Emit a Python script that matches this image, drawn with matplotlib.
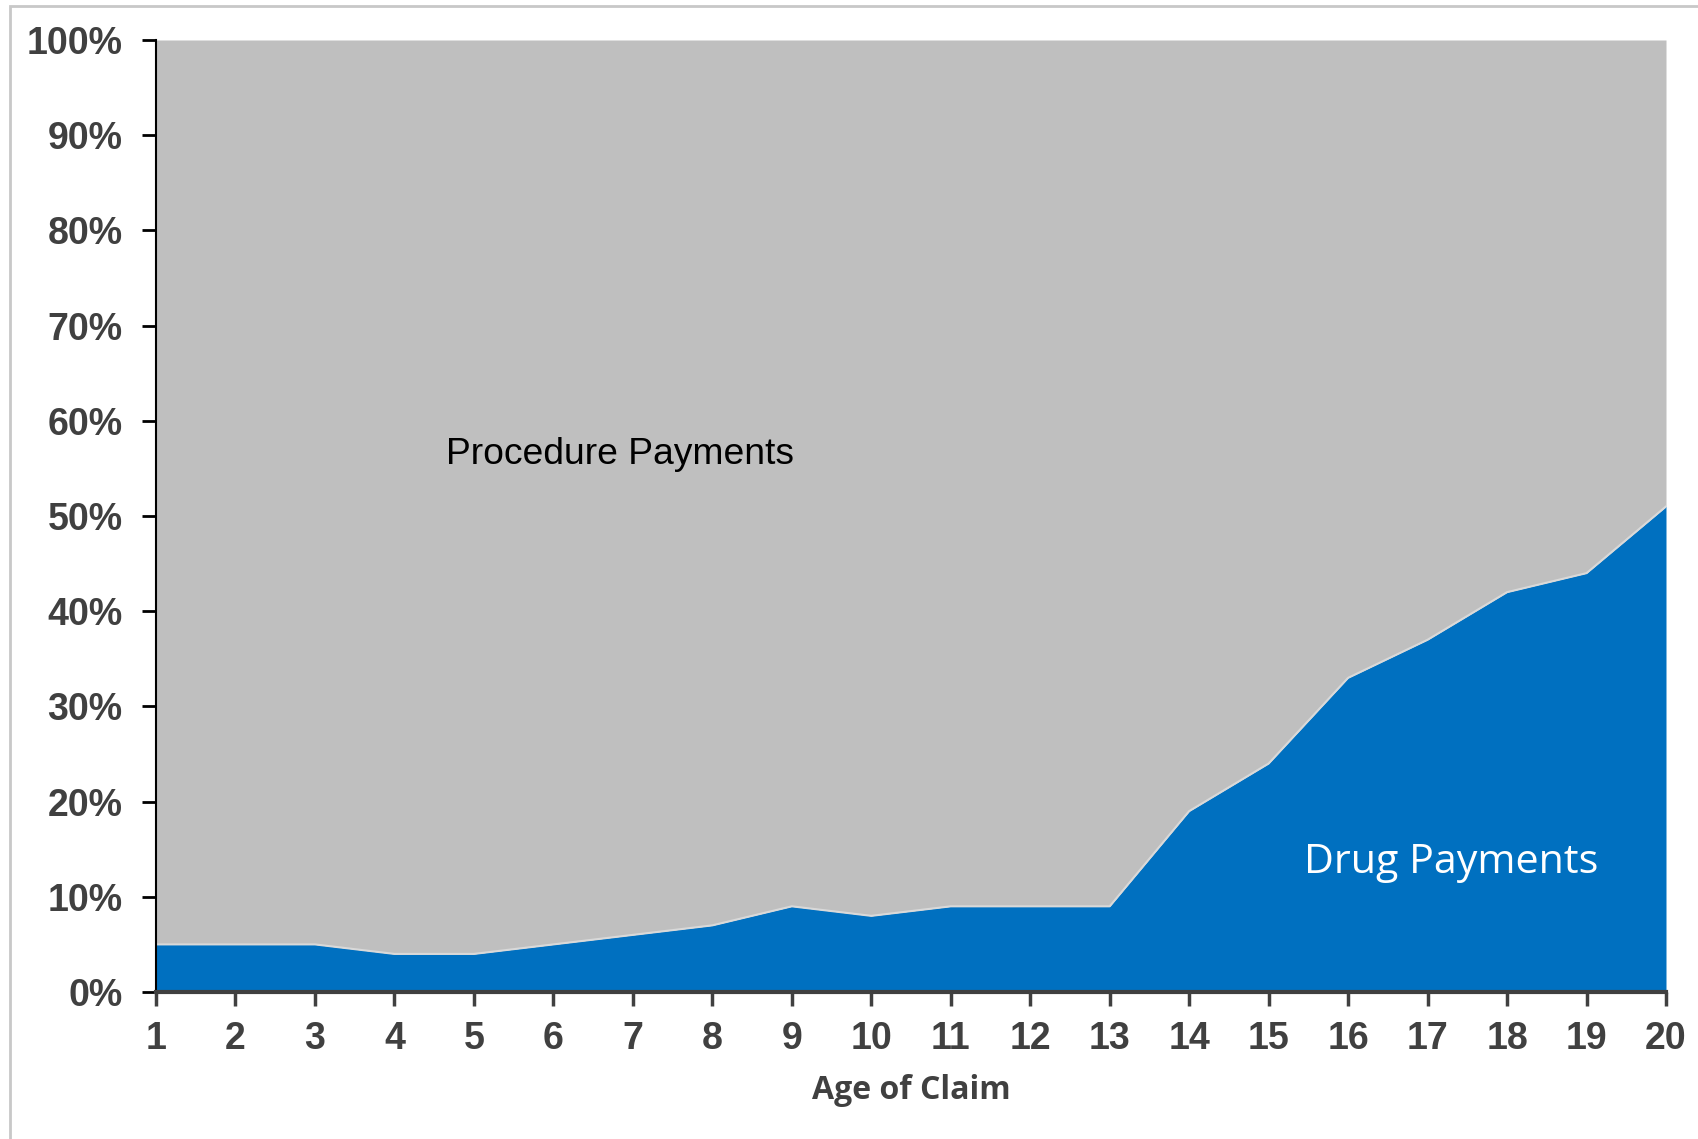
import matplotlib
matplotlib.use('Agg')
import matplotlib.pyplot as plt
import numpy as np
from matplotlib.patches import Rectangle

# Данные
age = list(range(1, 21))
drug = [5, 5, 5, 4, 4, 5, 6, 7, 9, 8, 9, 9, 9, 19, 24, 33, 37, 42, 44, 51]
y_ticks = list(range(0, 101, 10))
y_labels = [f'{t}%' for t in y_ticks]

blue = '#0070C0'
grey = '#BFBFBF'
dark = '#404040'

fig = plt.figure(figsize=(16.99, 11.39), dpi=100)
W, H = 1699, 1139
ax = fig.add_axes([156 / W, 1 - 992 / H, (1666 - 156) / W, (992 - 40) / H])

x = np.array(age)
d = np.array(drug)
ax.fill_between(x, 0, d, color=blue, lw=0)
ax.fill_between(x, d, 100, color=grey, lw=0)
ax.plot(x, d, color='#D9D9D9', lw=1.5)

ax.set_xlim(1, 20)
ax.set_ylim(0, 100)
ax.set_xticks(age)
ax.set_yticks(y_ticks)

tick_font = dict(family=['Liberation Sans Narrow', 'Liberation Sans', 'DejaVu Sans'],
                 weight='bold', size=27, color=dark)
ax.set_xticklabels([str(a) for a in age], **tick_font)
ax.set_yticklabels(y_labels, **tick_font)
ax.tick_params(axis='x', direction='out', length=10, width=2.5, color=dark, pad=11)
ax.tick_params(axis='y', direction='out', length=10, width=2, color='black', pad=14)

for s in ['top', 'right']:
    ax.spines[s].set_visible(False)
ax.spines['bottom'].set_color(dark)
ax.spines['bottom'].set_linewidth(3)
ax.spines['left'].set_color('black')
ax.spines['left'].set_linewidth(1.5)

ax.text(0.5, -0.103, 'Age of Claim', transform=ax.transAxes, ha='center', va='center',
        family=['Open Sans', 'DejaVu Sans'], weight='bold', size=23, color=dark)

ax.text(6.84, 56.45, 'Procedure Payments', ha='center', va='center',
        family=['Liberation Sans', 'DejaVu Sans'], size=26.8, color='black')
ax.text(17.3, 13.6, 'Drug Payments', ha='center', va='center',
        family=['Open Sans', 'DejaVu Sans'], size=29.7, color='white')

# рамка вокруг рисунка
fig.patches.append(Rectangle((10 / W, -0.1), 1.2, 1 - 6 / H + 0.1, transform=fig.transFigure,
                             fill=False, edgecolor='#C8C8C8', lw=2))

fig.savefig('out.png', dpi=100)
